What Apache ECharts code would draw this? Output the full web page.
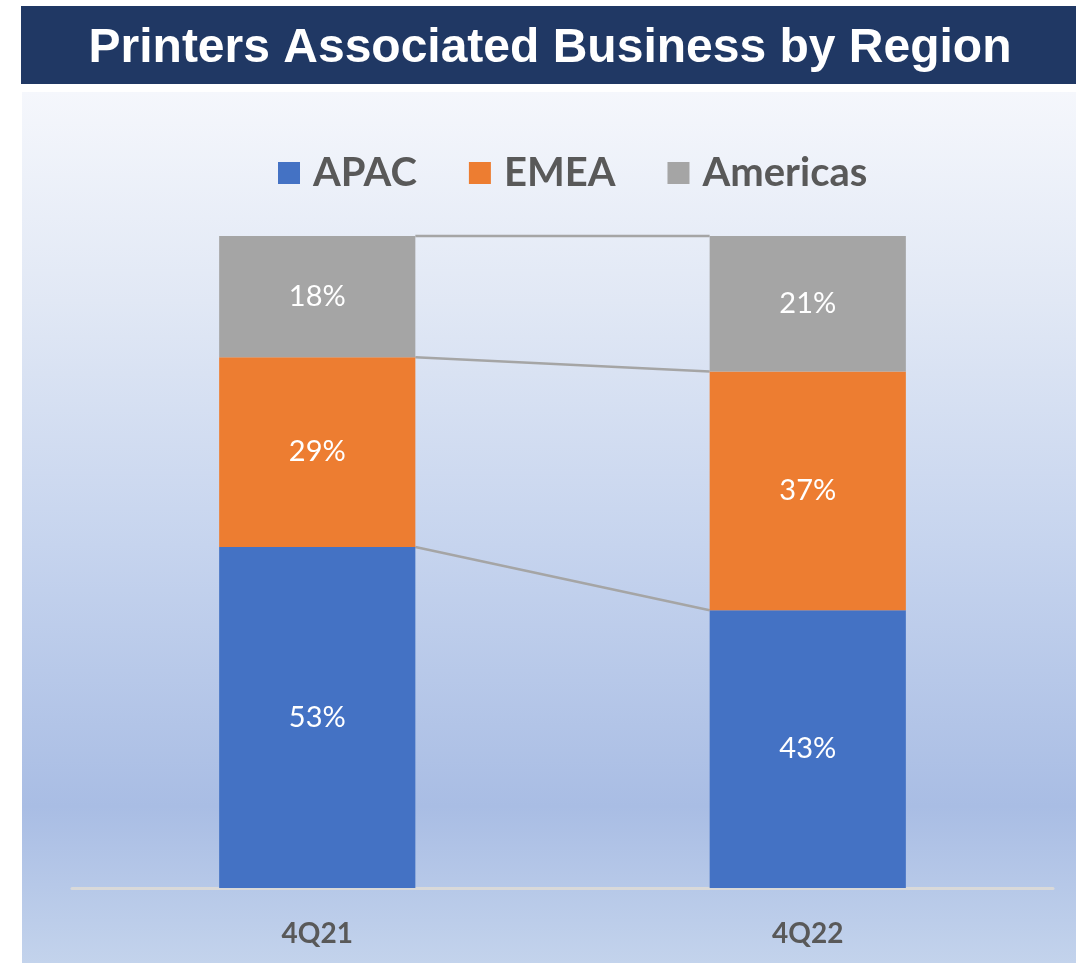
<!DOCTYPE html>
<html>
<head>
<meta charset="utf-8">
<script src="https://cdn.jsdelivr.net/npm/echarts@6/dist/echarts.min.js"></script>
<style>
  html, body { margin: 0; padding: 0; background: #ffffff; }
  #chart { width: 1076px; height: 963px; }
</style>
</head>
<body>
<div id="chart"></div>
<script>
const titleText = 'Printers Associated Business by Region';
const categories = ['4Q21', '4Q22'];
const seriesNames = ['APAC', 'EMEA', 'Americas'];
const apacValues = [52.3, 42.6];
const emeaValues = [29.1, 36.6];
const americasValues = [18.6, 20.8];
const apacLabels = ['53%', '43%'];
const emeaLabels = ['29%', '37%'];
const americasLabels = ['18%', '21%'];

const colors = ['#4472c4', '#ed7d31', '#a5a5a5'];
const valueSets = [apacValues, emeaValues, americasValues];
const labelSets = [apacLabels, emeaLabels, americasLabels];

// cumulative tops for the series connector lines
const connectors = [];
let cum0 = 0, cum1 = 0;
for (let k = 0; k < valueSets.length; k++) {
  cum0 += valueSets[k][0];
  cum1 += valueSets[k][1];
  connectors.push([0, cum0, cum1]);
}

const chart = echarts.init(document.getElementById('chart'), null, { renderer: 'canvas' });

const barSeries = seriesNames.map((name, i) => ({
  name: name,
  type: 'bar',
  stack: 'total',
  barWidth: '40%',
  z: 3,
  itemStyle: { color: colors[i] },
  label: {
    show: true,
    position: 'inside',
    color: '#ffffff',
    fontFamily: 'Lato',
    fontSize: 29,
    formatter: (p) => labelSets[i][p.dataIndex]
  },
  data: valueSets[i]
}));

const option = {
  animation: false,
  graphic: [
    {
      type: 'rect',
      z: -10,
      silent: true,
      shape: { x: 22, y: 92, width: 1054, height: 871 },
      style: {
        fill: new echarts.graphic.LinearGradient(0, 0, 0, 1, [
          { offset: 0, color: '#f5f7fc' },
          { offset: 0.24, color: '#e1e8f5' },
          { offset: 0.52, color: '#c6d4ee' },
          { offset: 0.82, color: '#a9bde4' },
          { offset: 1, color: '#c3d3ec' }
        ])
      }
    },
    {
      type: 'rect',
      z: -10,
      silent: true,
      shape: { x: 21, y: 6, width: 1055, height: 78 },
      style: { fill: '#203864' }
    }
  ],
  title: {
    text: titleText,
    left: 545,
    textAlign: 'center',
    top: 20,
    textStyle: {
      color: '#ffffff',
      fontFamily: 'Liberation Sans',
      fontWeight: 'bold',
      fontSize: 48
    }
  },
  legend: {
    data: seriesNames,
    left: 273,
    top: 148,
    itemWidth: 22,
    itemHeight: 22,
    itemGap: 52,
    icon: 'rect',
    textStyle: {
      color: '#595959',
      fontFamily: 'Lato',
      fontWeight: 'bold',
      fontSize: 40,
      padding: [0, 0, 0, 8]
    }
  },
  grid: {
    left: 72,
    right: 23,
    top: 236,
    bottom: 75,
    containLabel: false
  },
  xAxis: {
    type: 'category',
    data: categories,
    axisLine: { show: true, lineStyle: { color: '#d9d9d9', width: 3 } },
    axisTick: { show: false },
    axisLabel: {
      color: '#595959',
      fontFamily: 'Lato',
      fontWeight: 'bold',
      fontSize: 28,
      margin: 32
    }
  },
  yAxis: {
    type: 'value',
    min: 0,
    max: 100,
    show: false,
    splitLine: { show: false }
  },
  series: barSeries.concat([{
    type: 'custom',
    name: 'connectors',
    z: 2,
    silent: true,
    encode: { x: 0, y: [1, 2] },
    renderItem: function (params, api) {
      const p0 = api.coord([0, api.value(1)]);
      const p1 = api.coord([1, api.value(2)]);
      const half = api.size([1, 0])[0] * 0.2;
      return {
        type: 'line',
        shape: { x1: p0[0] + half, y1: p0[1], x2: p1[0] - half, y2: p1[1] },
        style: { stroke: '#a5a5a5', lineWidth: 2.5 }
      };
    },
    data: connectors
  }])
};

chart.setOption(option);
</script>
</body>
</html>
